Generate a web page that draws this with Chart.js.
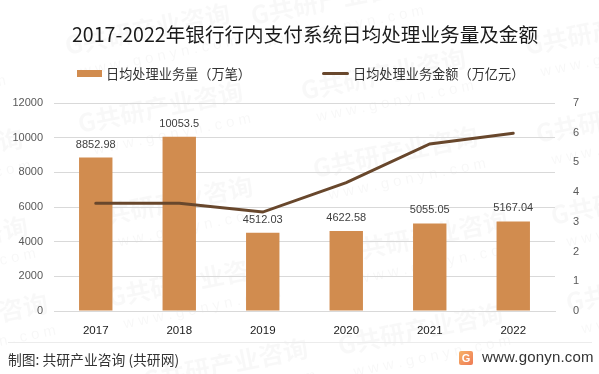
<!DOCTYPE html>
<html>
<head>
<meta charset="utf-8">
<script src="https://cdn.jsdelivr.net/npm/chart.js@4"></script>
<style>
  html, body { margin: 0; padding: 0; background: #fff; }
  #wrap { position: relative; width: 599px; height: 374px; overflow: hidden; font-family: "Noto Sans CJK SC", sans-serif; }
  #wrap canvas { position: absolute; left: 0; top: 0; }
  #title { position: absolute; left: 0; width: 610px; top: 19px; text-align: center; font-size: 19.6px; line-height: 30px; color: #1a1a1a; white-space: nowrap; }
  .leg { position: absolute; top: 65px; font-size: 13.2px; line-height: 18px; color: #333; white-space: nowrap; }
  .swatch { position: absolute; }
  #rule { position: absolute; left: 8px; top: 342px; width: 584px; height: 1px; background: #ececec; }
  #source { position: absolute; left: 8px; top: 349px; font-size: 13.8px; line-height: 20px; color: #333; white-space: nowrap; }
  #site { position: absolute; left: 482px; top: 347px; font: 15px/20px "Liberation Sans", sans-serif; letter-spacing: 0.2px; color: #333; white-space: nowrap; }
  #logo { position: absolute; left: 459px; top: 351px; width: 14px; height: 14px; border-radius: 2px; background: linear-gradient(135deg, #f7b267, #ee7a55); color: #fff; font: bold 11px/14px "Liberation Sans", sans-serif; text-align: center; }
</style>
</head>
<body>
<div id="wrap">
  <canvas id="myChart" width="599" height="374"></canvas>
  <div id="title">2017-2022年银行行内支付系统日均处理业务量及金额</div>
  <div class="swatch" style="left:77px;top:70px;width:25px;height:7px;background:#d18c4f"></div>
  <div class="leg" style="left:106px">日均处理业务量（万笔）</div>
  <div class="swatch" style="left:322px;top:72px;width:27px;height:3px;background:#68472c;border-radius:2px"></div>
  <div class="leg" style="left:353px">日均处理业务金额（万亿元）</div>
  <div id="rule"></div>
  <div id="source">制图: 共研产业咨询 (共研网)</div>
  <div id="logo">G</div>
  <div id="site">www.gonyn.com</div>
</div>
<script>
const years = ['2017', '2018', '2019', '2020', '2021', '2022'];
const volume = [8852.98, 10053.5, 4512.03, 4622.58, 5055.05, 5167.04];
const amount = [3.63, 3.63, 3.33, 4.32, 5.62, 5.98];
const volumeLabels = ['8852.98', '10053.5', '4512.03', '4622.58', '5055.05', '5167.04'];
const volumeName = '日均处理业务量（万笔）';
const amountName = '日均处理业务金额（万亿元）';

// faint diagonal site watermark, behind everything
const watermarkSpots = [
    [253, 25], [67, 55], [-165, 95], [527, 55], [303, 100], [80, 133],
    [-140, 180], [538, 143], [90, 228], [315, 178], [-135, 268], [110, 307],
    [345, 262], [553, 225], [568, 312], [-115, 345], [340, 355], [145, 390]
];
const watermark = {
    id: 'watermark',
    beforeDraw(chart) {
        const c = chart.ctx;
        watermarkSpots.forEach(([x, y]) => {
            c.save();
            c.translate(x, y);
            c.rotate(-11.5 * Math.PI / 180);
            c.fillStyle = 'rgba(0,0,0,0.028)';
            c.font = 'bold 25px "Noto Sans CJK SC"';
            c.fillText('G共研产业咨询', 0, 0);
            c.font = '15px "Liberation Sans"';
            c.fillStyle = 'rgba(0,0,0,0.03)';
            c.fillText('w w w . g o n y n . c o m', 10, 24);
            c.restore();
        });
    }
};

// value labels above the bars
const barLabels = {
    id: 'barLabels',
    afterDatasetsDraw(chart) {
        const meta = chart.getDatasetMeta(1);
        const c = chart.ctx;
        c.save();
        c.font = '11px "Liberation Sans"';
        c.fillStyle = '#404040';
        c.textAlign = 'center';
        c.textBaseline = 'alphabetic';
        meta.data.forEach((bar, i) => {
            c.fillText(volumeLabels[i], bar.x, bar.y - 10);
        });
        c.restore();
    }
};

new Chart(document.getElementById('myChart'), {
    data: {
        labels: years,
        datasets: [
            {
                type: 'line',
                label: amountName,
                data: amount,
                yAxisID: 'y2',
                borderColor: '#68472c',
                borderWidth: 3,
                borderCapStyle: 'round',
                pointRadius: 0,
                tension: 0,
                order: 1
            },
            {
                type: 'bar',
                label: volumeName,
                data: volume,
                yAxisID: 'y',
                backgroundColor: '#d18c4f',
                barPercentage: 0.4,
                categoryPercentage: 1,
                order: 2
            }
        ]
    },
    plugins: [watermark, barLabels],
    options: {
        responsive: false,
        animation: false,
        layout: { padding: { left: 0, right: 0, top: 103, bottom: 0 } },
        plugins: {
            legend: { display: false },
            tooltip: { enabled: false }
        },
        scales: {
            x: {
                afterFit(s) { s.height = 63; },
                grid: { display: false },
                border: { color: '#d9d9d9' },
                ticks: { color: '#1a1a1a', font: { family: '"Liberation Sans"', size: 11.5 }, padding: 5, maxRotation: 0 }
            },
            y: {
                position: 'left',
                min: 0,
                max: 12000,
                afterFit(s) { s.width = 54; },
                grid: { color: '#d9d9d9', drawTicks: false },
                border: { display: false },
                ticks: {
                    stepSize: 2000,
                    color: '#595959',
                    font: { family: '"Liberation Sans"', size: 11 },
                    padding: 11,
                    callback: v => String(v)
                }
            },
            y2: {
                position: 'right',
                min: 0,
                max: 7,
                afterFit(s) { s.width = 44; },
                grid: { display: false },
                border: { display: false },
                ticks: { stepSize: 1, color: '#595959', font: { family: '"Liberation Sans"', size: 11 }, padding: 10 }
            }
        }
    }
});
</script>
</body>
</html>
